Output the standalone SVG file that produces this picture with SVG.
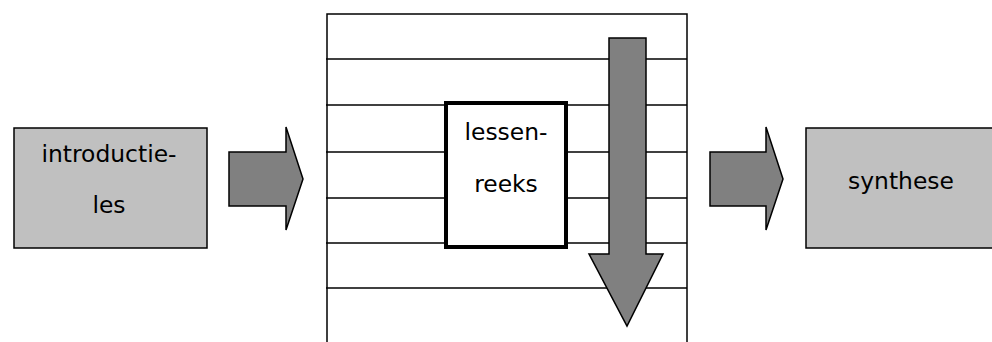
<svg xmlns="http://www.w3.org/2000/svg" width="992" height="342" viewBox="0 0 992 342">
<style>
.box{fill:#c0c0c0;stroke:#000;stroke-width:1.5}
.arr{fill:#808080;stroke:#000;stroke-width:1.5;stroke-linejoin:miter}
.ln{stroke:#000;stroke-width:1.5;fill:none}
.t{font-family:"DejaVu Sans",Verdana,sans-serif;font-size:23.4px;fill:#000;text-anchor:middle}
</style>
<rect width="992" height="342" fill="#fff"/>
<g id="lessenblok">
<rect x="327" y="14" width="360" height="340" fill="#fff" class="ln"/>
<line class="ln" x1="326" y1="59" x2="687" y2="59"/>
<line class="ln" x1="326" y1="105" x2="687" y2="105"/>
<line class="ln" x1="326" y1="152" x2="687" y2="152"/>
<line class="ln" x1="326" y1="198" x2="687" y2="198"/>
<line class="ln" x1="326" y1="243" x2="687" y2="243"/>
<line class="ln" x1="326" y1="288" x2="687" y2="288"/>
</g>
<g id="introductieles">
<rect class="box" x="14" y="128" width="193" height="120"/>
<text class="t" x="109" y="162">introductie-</text>
<text class="t" x="109" y="213">les</text>
</g>
<g id="lessenreeks">
<rect x="446" y="103" width="120" height="144" fill="#fff" stroke="#000" stroke-width="4"/>
<text class="t" x="506" y="140">lessen-</text>
<text class="t" x="506" y="192">reeks</text>
</g>
<g id="synthese">
<rect class="box" x="806" y="128" width="200" height="120"/>
<text class="t" x="901" y="189">synthese</text>
</g>
<g id="connectors">
<path class="arr" d="M229,152 H286 V127 L303,179 L286,230 V206 H229 Z"/>
<path class="arr" d="M710,152 H766 V127 L783,179 L766,230 V206 H710 Z"/>
<path class="arr" d="M609,38 H646 V254 H663 L627,326 L589,254 H609 Z"/>
</g>
</svg>
